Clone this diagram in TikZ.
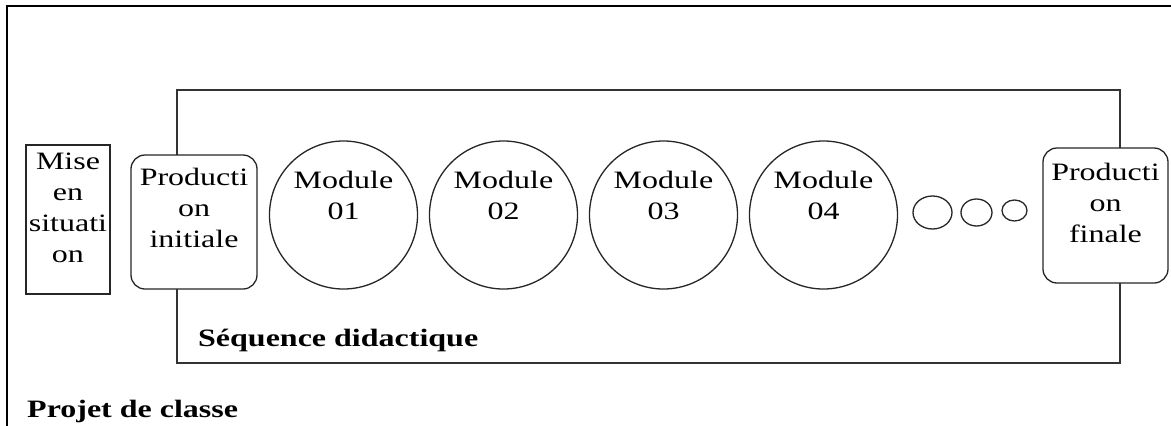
\documentclass[tikz,border=0pt]{standalone}
\usepackage{fontspec}
\setmainfont{Liberation Serif}[FakeStretch=1.28]
\usetikzlibrary{shapes.geometric,positioning}
\tikzset{
  frm/.style={draw=black,line width=2pt},
  seqbox/.style={draw=black!80,line width=1.3pt},
  sbox/.style={draw=black!85,line width=1.3pt,fill=white,inner sep=0pt},
  rbox/.style={sbox,rounded corners=14pt},
  modc/.style={circle,draw=black!85,line width=1.3pt,minimum size=148pt,inner sep=0pt},
  dotc/.style={ellipse,draw=black!85,line width=1.3pt,inner sep=0pt},
  txt/.style={font=\fontsize{25}{31}\selectfont,align=center,inner sep=0pt,anchor=north},
  ttl/.style={font=\fontsize{25}{31}\selectfont\bfseries,inner sep=0pt,anchor=base west},
}
\begin{document}
\begin{tikzpicture}[x=1pt,y=-1pt]
\useasboundingbox (0,0) rectangle (1171,426);
% projet de classe (cut by the page)
\draw[frm] (7,440) -- (7,6) -- (1180,6);
% sequence didactique
\node[seqbox,minimum width=943pt,minimum height=273pt,inner sep=0pt] (seq) at (648.5,226.5) {};
\node[sbox,minimum width=84pt,minimum height=149pt] (mise) at (68,219.5) {};
\node[txt] (misetxt) at (68,153) {Mise\\en\\situati\\on};
\node[rbox,minimum width=126pt,minimum height=134pt] (pinit) at (194,222) {};
\node[txt] (pinittxt) at (194,168) {Producti\\on\\initiale};
\foreach \i/\x in {1/343.5,2/503.5,3/663.5,4/823.5}{
  \node[modc] (m\i) at (\x,215) {};
  \node[txt] (mt\i) at (\x,171) {Module\\0\i};
}
\node[dotc,minimum width=39pt,minimum height=33pt] (e1) at (932.5,212.5) {};
\node[dotc,minimum width=31pt,minimum height=27pt] (e2) at (976.5,212.5) {};
\node[dotc,minimum width=25pt,minimum height=21pt] (e3) at (1014.5,210.5) {};
\node[rbox,minimum width=125pt,minimum height=135pt] (pfin) at (1105.5,215.5) {};
\node[txt] (pfintxt) at (1105.5,163) {Producti\\on\\finale};
\node[ttl] (seqlab) at (198,346) {Séquence didactique};
\node[ttl] (projlab) at (27,417) {Projet de classe};
\end{tikzpicture}
\end{document}
